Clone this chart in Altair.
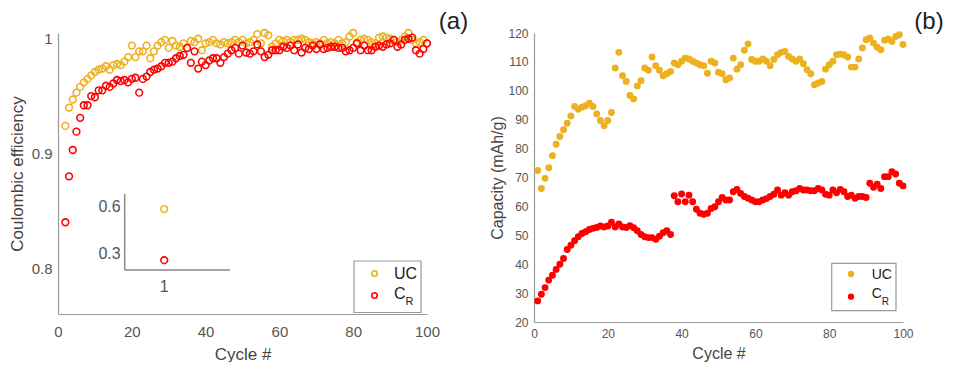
import altair as alt
import pandas as pd

FONT = "Liberation Sans"

# ---------------- data: panel (a) Coulombic efficiency ----------------
cycles_a = list(range(2, 101))
ce_uc = [
    .924, .940, .947, .953, .958, .962, .965, .968, .971, .973,
    .974, .976, .973, .977, .978, .977, .980, .984, .994, .984,
    .989, .989, .994, .983, .989, .994, .997, .999, .992, .998,
    .994, .993, .996, .992, .998, .997, 1.000, .990, .996, .997,
    .999, .996, .995, .997, .996, .997, .999, .997, .999, .996,
    .997, .999, 1.004, .996, 1.005, 1.003, .993, .996, .999, .998,
    .999, .997, .999, .999, 1.000, .999, .997, .996, .997, .996,
    .999, .996, .997, .996, .999, .996, .997, 1.002, 1.005, .997,
    .999, 1.000, .999, .997, .996, 1.001, 1.002, 1.001, 1.000, .999,
    .997, .999, 1.002, 1.005, .999, .996, .997, .999, .996,
]
ce_cr = [
    .840, .880, .903, .919, .931, .942, .942, .950, .949, .955,
    .955, .959, .958, .961, .964, .963, .964, .962, .965, .966,
    .953, .965, .967, .971, .973, .974, .976, .979, .979, .980,
    .983, .985, .986, .992, .979, .989, .974, .980, .977, .981,
    .983, .983, .979, .984, .987, .990, .992, .987, .994, .988,
    .987, .989, .995, .989, .984, .986, .990, .990, .990, .993,
    .992, .994, .990, .995, .988, .992, .991, .994, .991, .995,
    .991, .992, .993, .993, .992, .992, .989, .990, .992, .996,
    .990, .994, .990, .990, .993, .994, .993, .995, .996, .999,
    .993, .995, .999, 1.000, 1.001, .990, .987, .991, .996,
]
# inset: first cycle
inset_cycle = [1]
inset_uc = [0.585]
inset_cr = [0.262]
inset_ytick_values = [0.6, 0.3]
inset_ytick_labels = ["0.6", "0.3"]
inset_xtick_values = [1]
inset_xtick_labels = ["1"]

# ---------------- data: panel (b) Capacity ----------------
cycles_b = list(range(1, 101))
cap_uc = [
    72.4, 66.2, 69.7, 73.4, 77.5, 81.5, 84.2, 86.5, 88.8, 91.3,
    94.6, 93.6, 94.3, 94.8, 95.7, 94.6, 92.0, 89.7, 87.9, 89.7,
    92.5, 107.9, 113.3, 105.2, 103.2, 98.4, 97.2, 101.7, 103.5, 107.9,
    107.1, 111.7, 108.7, 107.1, 105.2, 105.9, 106.7, 109.6, 109.0, 110.2,
    111.3, 111.0, 110.2, 109.6, 109.0, 108.7, 106.1, 110.2, 109.6, 106.4,
    105.9, 103.8, 104.4, 111.3, 107.5, 109.0, 114.0, 116.2, 110.8, 110.2,
    110.2, 111.0, 110.2, 108.7, 110.8, 112.5, 113.3, 113.6, 111.9, 111.0,
    110.2, 111.0, 109.4, 107.3, 105.9, 102.1, 102.7, 103.2, 107.5, 109.0,
    110.2, 112.5, 112.7, 112.5, 111.7, 108.2, 108.2, 111.0, 114.8, 117.7,
    118.3, 116.5, 115.1, 114.2, 117.5, 117.9, 117.1, 118.8, 119.4, 116.0,
]
cap_cr = [
    27.3, 29.6, 31.9, 34.5, 36.2, 38.2, 40.0, 42.0, 45.1, 46.6,
    48.1, 49.5, 50.6, 51.2, 52.0, 52.4, 52.7, 53.2, 52.9, 53.2,
    54.5, 52.9, 53.9, 52.9, 52.7, 53.3, 52.6, 51.6, 50.3, 49.5,
    49.2, 49.2, 48.6, 49.7, 50.9, 51.6, 50.3, 63.7, 61.6, 64.3,
    61.6, 63.9, 61.6, 59.0, 57.6, 57.3, 57.6, 59.3, 59.9, 61.6,
    63.1, 62.2, 62.2, 65.1, 65.9, 64.5, 63.4, 62.8, 62.2, 61.6,
    61.6, 62.2, 62.7, 63.4, 64.2, 65.7, 63.9, 64.7, 63.9, 65.1,
    65.4, 66.2, 65.7, 65.7, 65.4, 65.4, 66.2, 65.7, 64.2, 63.9,
    65.7, 64.7, 65.9, 65.1, 63.4, 63.9, 62.8, 63.4, 63.4, 63.1,
    68.0, 66.6, 67.7, 66.2, 70.3, 70.3, 72.0, 71.2, 68.0, 67.1,
]

series_names = ["UC", "CR"]
series_colors = ["#EDB120", "#FF0000"]
legend_main = ["UC", "C"]
legend_sub = ["", "R"]
panel_labels = ["(a)", "(b)"]
x_ticks = [0, 20, 40, 60, 80, 100]
ce_ticks = [0.8, 0.9, 1.0]
cap_ticks = [20, 30, 40, 50, 60, 70, 80, 90, 100, 110, 120]

AXIS_GREY = "#999999"
LABEL_GREY = "#555555"
TITLE_GREY = "#444444"

color_scale = alt.Scale(domain=series_names, range=series_colors)

df_a = pd.DataFrame({
    "cycle": cycles_a + cycles_a,
    "value": ce_uc + ce_cr,
    "series": ["UC"] * len(cycles_a) + ["CR"] * len(cycles_a),
})
df_inset = pd.DataFrame({
    "cycle": inset_cycle + inset_cycle,
    "value": inset_uc + inset_cr,
    "series": ["UC", "CR"],
})
df_b = pd.DataFrame({
    "cycle": cycles_b + cycles_b,
    "value": cap_uc + cap_cr,
    "series": ["UC"] * len(cycles_b) + ["CR"] * len(cycles_b),
})

one = pd.DataFrame({"k": [0]})


def legend_layers(box, mx, my, tx, ty_main, sub_dx, sub_dy, fsize, subsize, filled, msize):
    x0, x1, y0, y1 = box
    layers = [
        alt.Chart(one).mark_rect(fill="white", stroke=AXIS_GREY, strokeWidth=1.2).encode(
            x=alt.value(x0), x2=alt.value(x1), y=alt.value(y0), y2=alt.value(y1)
        )
    ]
    for i in range(2):
        if filled:
            m = alt.Chart(one).mark_point(filled=True, size=msize, opacity=1, color=series_colors[i])
        else:
            m = alt.Chart(one).mark_point(filled=False, size=msize, strokeWidth=1.6, opacity=1,
                                          color=series_colors[i])
        layers.append(m.encode(x=alt.value(mx), y=alt.value(my[i])))
        layers.append(
            alt.Chart(one).mark_text(text=legend_main[i], font=FONT, fontSize=fsize, color="#222222",
                                     align="left", baseline="middle").encode(
                x=alt.value(tx), y=alt.value(ty_main[i]))
        )
        if legend_sub[i]:
            layers.append(
                alt.Chart(one).mark_text(text=legend_sub[i], font=FONT, fontSize=subsize, color="#222222",
                                         align="left", baseline="middle").encode(
                    x=alt.value(tx + sub_dx), y=alt.value(ty_main[i] + sub_dy))
            )
    return layers


def axis(values, title, tsize, lsize, lpad, tpad, fmt=None):
    kw = dict(values=values, title=title, titleFontSize=tsize, labelFontSize=lsize,
              labelPadding=lpad, titlePadding=tpad, ticks=False, grid=False,
              domainColor=AXIS_GREY, domainWidth=1.2, labelColor=LABEL_GREY,
              titleColor=TITLE_GREY, labelFont=FONT, titleFont=FONT,
              titleFontWeight="normal", labelFlush=False, labelOverlap=False)
    if fmt:
        kw["format"] = fmt
    return alt.Axis(**kw)


# ---------------- panel (a) ----------------
W, HA, HB = 369, 281, 289

main_a = alt.Chart(df_a).mark_point(filled=False, size=45, strokeWidth=1.6, opacity=1).encode(
    x=alt.X("cycle:Q", scale=alt.Scale(domain=[0, 100], nice=False, zero=False),
            axis=axis(x_ticks, "Cycle #", 17, 15, 10, 7)),
    y=alt.Y("value:Q", scale=alt.Scale(domain=[0.76, 1.005], nice=False, zero=False),
            axis=axis(ce_ticks, "Coulombic efficiency", 17, 15, 6, 5, "~g")),
    color=alt.Color("series:N", scale=color_scale, legend=None),
)

ix_scale = alt.Scale(domain=[0.4, 2.0], range=[66.7, 172], nice=False, zero=False)
iy_scale = alt.Scale(domain=[0.2, 0.68], range=[237, 161], nice=False, zero=False)

inset_pts = alt.Chart(df_inset).mark_point(filled=False, size=45, strokeWidth=1.6, opacity=1).encode(
    x=alt.X("cycle:Q", scale=ix_scale, axis=None),
    y=alt.Y("value:Q", scale=iy_scale, axis=None),
    color=alt.Color("series:N", scale=color_scale, legend=None),
)
inset_axes_df = pd.DataFrame({
    "cycle": [0.4, 0.4], "cycle2": [0.4, 2.0],
    "value": [0.2, 0.2], "value2": [0.68, 0.2],
})
inset_axes = alt.Chart(inset_axes_df).mark_rule(color="#888888", strokeWidth=1.5).encode(
    x=alt.X("cycle:Q", scale=ix_scale, axis=None), x2="cycle2:Q",
    y=alt.Y("value:Q", scale=iy_scale, axis=None), y2="value2:Q",
)
inset_ylab = alt.Chart(pd.DataFrame({
    "cycle": [0.4] * len(inset_ytick_values), "value": inset_ytick_values, "lab": inset_ytick_labels
})).mark_text(font=FONT, fontSize=16, color=LABEL_GREY, align="right", baseline="middle", dx=-4).encode(
    x=alt.X("cycle:Q", scale=ix_scale, axis=None),
    y=alt.Y("value:Q", scale=iy_scale, axis=None),
    text="lab:N",
)
inset_xlab = alt.Chart(pd.DataFrame({
    "cycle": inset_xtick_values, "value": [0.2] * len(inset_xtick_values), "lab": inset_xtick_labels
})).mark_text(font=FONT, fontSize=16, color=LABEL_GREY, align="center", baseline="middle", dy=17).encode(
    x=alt.X("cycle:Q", scale=ix_scale, axis=None),
    y=alt.Y("value:Q", scale=iy_scale, axis=None),
    text="lab:N",
)
inset = alt.layer(inset_axes, inset_pts, inset_ylab, inset_xlab)

label_a = alt.Chart(one).mark_text(text=panel_labels[0], font=FONT, fontSize=24, color="#222222",
                                   align="center", baseline="middle").encode(
    x=alt.value(395.5), y=alt.value(-11))

leg_a = legend_layers((296, 363, 228, 279.5), 316.5, [240.5, 262.5], 336, [241, 260.5],
                      11.5, 8, 16, 11, False, 30)

panel_a = alt.layer(main_a, inset, label_a, *leg_a).resolve_scale(
    x="independent", y="independent"
).properties(width=W, height=HA)

# ---------------- panel (b) ----------------
main_b = alt.Chart(df_b).mark_point(filled=True, size=48, opacity=1).encode(
    x=alt.X("cycle:Q", scale=alt.Scale(domain=[0, 100], nice=False, zero=False),
            axis=axis(x_ticks, "Cycle #", 16, 12, 6, 6)),
    y=alt.Y("value:Q", scale=alt.Scale(domain=[20, 120], nice=False, zero=False),
            axis=axis(cap_ticks, "Capacity (mAh/g)", 16, 12, 6, 2)),
    color=alt.Color("series:N", scale=color_scale, legend=None),
)
label_b = alt.Chart(one).mark_text(text=panel_labels[1], font=FONT, fontSize=24, color="#222222",
                                   align="center", baseline="middle").encode(
    x=alt.value(395), y=alt.value(-11))
leg_b = legend_layers((297.7, 362, 230.3, 277.7), 317, [241, 263.7], 337.7, [242.3, 261],
                      10.1, 8, 14, 10, True, 40)

panel_b = alt.layer(main_b, label_b, *leg_b).properties(width=W, height=HB)

chart = alt.hconcat(panel_a, panel_b, spacing=20).properties(
    padding={"left": 0, "top": 2, "right": 0, "bottom": 0}
).configure_view(strokeWidth=0)

chart.save("out.html", embed_options={"renderer": "svg", "actions": False})
